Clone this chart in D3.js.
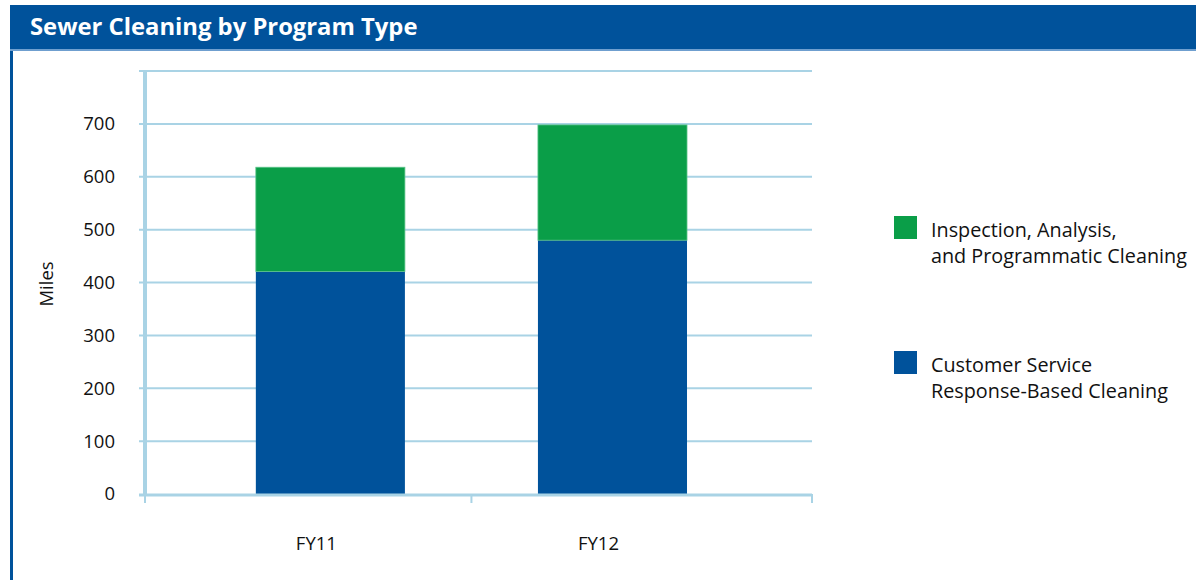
<!DOCTYPE html>
<html>
<head>
<meta charset="utf-8">
<script src="https://cdn.jsdelivr.net/npm/d3@7"></script>
<style>
  body { margin: 0; background: #fff; }
  svg { display: block; font-family: "Open Sans", "Noto Sans", sans-serif; }
</style>
</head>
<body>
<svg id="chart" width="1196" height="580"></svg>
<script>
"use strict";

//Chart data
var years = ["FY11", "FY12"];
var responseBased = [421, 480];
var programmatic = [197, 218];
var yTicks = [0, 100, 200, 300, 400, 500, 600, 700, 800];
var seriesNames = ["Inspection, Analysis,|and Programmatic Cleaning", "Customer Service|Response-Based Cleaning"];

var navy = "#00529b", green = "#0a9e48", pale = "#a9d3e5";

var svg = d3.select("#chart");

//Header band and panel border
svg.append("rect").attr("x", 10).attr("y", 5).attr("width", 1186).attr("height", 44).attr("fill", navy);
svg.append("rect").attr("x", 10).attr("y", 49).attr("width", 1186).attr("height", 2).attr("fill", "#6f9fcf");
svg.append("rect").attr("x", 10).attr("y", 51).attr("width", 3).attr("height", 529).attr("fill", navy);
svg.append("text")
  .attr("x", 30).attr("y", 35)
  .attr("fill", "#fff")
  .style("font-size", "23.8px").style("font-weight", "bold")
  .text("Sewer Cleaning by Program Type");

//Plot area
var margin = {left: 145, top: 71, right: 812, bottom: 494};

var y = d3.scaleLinear().domain([0, 800]).range([margin.bottom, margin.top]);
var x = d3.scaleBand().domain(years).range([margin.left, margin.right])
  .paddingInner(0.4716).paddingOuter(0.418).align(0.47);

var g = svg.append("g");

//Gridlines + y tick marks
g.selectAll(".grid").data(yTicks.slice(1)).enter().append("line")
  .attr("x1", margin.left - 6).attr("x2", margin.right)
  .attr("y1", function(d) { return y(d); }).attr("y2", function(d) { return y(d); })
  .attr("stroke", pale).attr("stroke-width", 2);

g.selectAll(".ylab").data(yTicks.slice(0, -1)).enter().append("text")
  .attr("x", 115).attr("y", function(d) { return y(d); })
  .attr("dy", "0.35em")
  .attr("text-anchor", "end")
  .attr("fill", "#111")
  .style("font-size", "18.5px")
  .text(function(d) { return d; });

//Stacked bars
var stackData = years.map(function(c, i) {
  return {year: c, base: responseBased[i], top: programmatic[i]};
});

g.selectAll(".bar-base").data(stackData).enter().append("rect")
  .attr("x", function(d) { return x(d.year); })
  .attr("width", x.bandwidth())
  .attr("y", function(d) { return y(d.base); })
  .attr("height", function(d) { return y(0) - y(d.base); })
  .attr("fill", navy);

g.selectAll(".bar-top").data(stackData).enter().append("rect")
  .attr("x", function(d) { return x(d.year); })
  .attr("width", x.bandwidth())
  .attr("y", function(d) { return y(d.base + d.top); })
  .attr("height", function(d) { return y(d.base) - y(d.base + d.top); })
  .attr("fill", green)
  .attr("stroke", "#5cc48a").attr("stroke-width", 0.8);

//Axes lines
g.append("line")
  .attr("x1", margin.left).attr("x2", margin.left)
  .attr("y1", margin.top).attr("y2", margin.bottom + 2)
  .attr("stroke", pale).attr("stroke-width", 4);
g.append("line")
  .attr("x1", margin.left - 6).attr("x2", margin.right)
  .attr("y1", margin.bottom + 1).attr("y2", margin.bottom + 1)
  .attr("stroke", pale).attr("stroke-width", 3);

//x tick marks between categories
var mid = (x(years[0]) + x(years[1]) + x.bandwidth()) / 2;
g.selectAll(".xtick").data([margin.left, mid, margin.right]).enter().append("line")
  .attr("x1", function(d) { return d; }).attr("x2", function(d) { return d; })
  .attr("y1", margin.bottom).attr("y2", margin.bottom + 9)
  .attr("stroke", pale).attr("stroke-width", 2);

g.selectAll(".xlab").data(years).enter().append("text")
  .attr("x", function(d) { return x(d) + x.bandwidth() / 2 - 14; })
  .attr("y", 550)
  .attr("text-anchor", "middle")
  .attr("fill", "#111")
  .style("font-size", "18.5px")
  .text(function(d) { return d; });

//Y axis title
g.append("text")
  .attr("transform", "translate(53,284) rotate(-90)")
  .attr("text-anchor", "middle")
  .attr("fill", "#111")
  .style("font-size", "18.5px")
  .text("Miles");

//Legend
var legend = svg.append("g");
var legColors = [green, navy];
var legY = [216, 351];
seriesNames.forEach(function(name, i) {
  legend.append("rect")
    .attr("x", 894).attr("y", legY[i])
    .attr("width", 23).attr("height", 23)
    .attr("fill", legColors[i]);
  name.split("|").forEach(function(line, j) {
    legend.append("text")
      .attr("x", 931).attr("y", legY[i] + 21 + j * 26)
      .attr("fill", "#111")
      .style("font-size", "19.8px")
      .text(line);
  });
});
</script>
</body>
</html>
